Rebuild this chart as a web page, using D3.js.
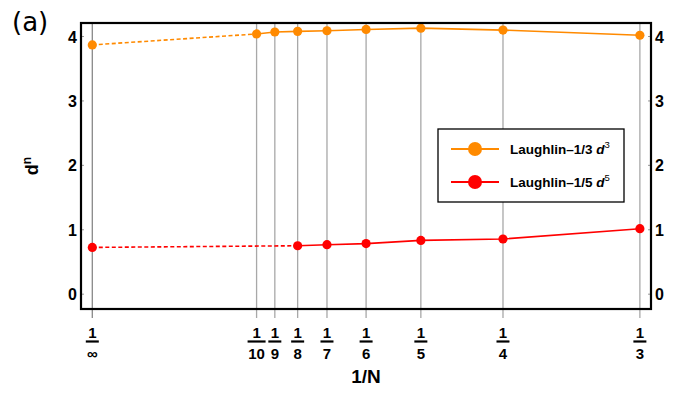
<!DOCTYPE html>
<html>
<head>
<meta charset="utf-8">
<title>d^n vs 1/N</title>
<script src="https://d3js.org/d3.v7.min.js"></script>
<style>
body { margin: 0; background: #fff; }
text { font-family: "Liberation Sans", Arial, sans-serif; }
.frame { fill: none; stroke: #000; stroke-width: 2.2; }
.grid { stroke: #a8a8a8; stroke-width: 1.3; }
.ytick { font-size: 16px; font-weight: bold; }
.xfrac { font-size: 15px; font-weight: bold; }
</style>
</head>
<body>
<script>
// tick positions along 1/N and their denominators
var tickN = [Infinity, 10, 9, 8, 7, 6, 5, 4, 3];
var tickDen = ["\u221e", "10", "9", "8", "7", "6", "5", "4", "3"];
var yTicks = [0, 1, 2, 3, 4];

// Laughlin-1/3 d^3
var nOrange = [Infinity, 10, 9, 8, 7, 6, 5, 4, 3];
var dOrange = [3.87, 4.04, 4.07, 4.08, 4.09, 4.11, 4.13, 4.10, 4.02];
// Laughlin-1/5 d^5
var nRed = [Infinity, 8, 7, 6, 5, 4, 3];
var dRed = [0.726, 0.752, 0.768, 0.785, 0.835, 0.857, 1.017];

var W = 688, H = 397;
var margin = {top: 23, right: 37, bottom: 88, left: 81};
var width = W - margin.left - margin.right,
    height = H - margin.top - margin.bottom;

var x = d3.scaleLinear().domain([-0.00688, 0.3401]).range([0, width]);
var y = d3.scaleLinear().domain([-0.23, 4.21]).range([height, 0]);

var svg = d3.select("body").append("svg")
    .attr("width", W).attr("height", H);

svg.append("text")
    .attr("x", 12).attr("y", 31)
    .style("font-family", "'DejaVu Sans', sans-serif")
    .style("font-size", "26px")
    .text("(a)");

var g = svg.append("g")
    .attr("transform", "translate(" + margin.left + "," + margin.top + ")");

function inv(n) { return n === Infinity ? 0 : 1 / n; }

// vertical grid lines, running past the bottom of the frame
g.selectAll(".grid").data(tickN).enter().append("line")
    .attr("class", "grid")
    .attr("x1", function(d) { return x(inv(d)); })
    .attr("x2", function(d) { return x(inv(d)); })
    .attr("y1", 0).attr("y2", height + 9)
    .style("stroke", function(d, i) { return i === 0 ? "#888" : null; });

// y tick labels, both sides
[{side: "left", anchor: "end", dx: -4}, {side: "right", anchor: "start", dx: width + 4}].forEach(function(s) {
  g.selectAll(".yt-" + s.side).data(yTicks).enter().append("text")
      .attr("class", "ytick")
      .attr("text-anchor", s.anchor)
      .attr("x", s.dx)
      .attr("y", function(d) { return y(d) + 6; })
      .text(function(d) { return d; });
  g.selectAll(".ym-" + s.side).data(yTicks).enter().append("line")
      .attr("x1", s.side === "left" ? 0 : width)
      .attr("x2", s.side === "left" ? 3 : width - 3)
      .attr("y1", function(d) { return y(d); })
      .attr("y2", function(d) { return y(d); })
      .attr("stroke", "#999");
});

// fraction tick labels 1/N
var xl = g.selectAll(".xl").data(tickN).enter().append("g")
    .attr("transform", function(d) { return "translate(" + x(inv(d)) + "," + height + ")"; });
xl.append("text").attr("class", "xfrac").attr("text-anchor", "middle")
    .attr("y", 29).text("1");
xl.append("line")
    .attr("x1", function(d, i) { return tickDen[i].length > 1 ? -9 : -6.5; })
    .attr("x2", function(d, i) { return tickDen[i].length > 1 ? 9 : 6.5; })
    .attr("y1", 32.5).attr("y2", 32.5)
    .attr("stroke", "#000").attr("stroke-width", 2.2);
xl.append("text").attr("class", "xfrac").attr("text-anchor", "middle")
    .attr("y", 50).text(function(d, i) { return tickDen[i]; });

svg.append("text")
    .attr("x", 366).attr("y", 383)
    .attr("text-anchor", "middle")
    .style("font-size", "19px").style("font-weight", "bold")
    .text("1/N");

var yl = svg.append("text")
    .attr("transform", "translate(38,166) rotate(-90)")
    .attr("text-anchor", "middle")
    .style("font-size", "18px").style("font-weight", "bold");
yl.append("tspan").text("d");
yl.append("tspan").attr("dy", -7).style("font-size", "12px").text("n");

// series
var series = [
  {n: nOrange, d: dOrange, color: "#ff8a00", split: 1},
  {n: nRed, d: dRed, color: "#ff0000", split: 1}
];

var line = d3.line()
    .x(function(p) { return x(p[0]); })
    .y(function(p) { return y(p[1]); });

series.forEach(function(s) {
  var pts = s.n.map(function(n, i) { return [inv(n), s.d[i]]; });
  g.append("path").datum(pts.slice(0, s.split + 1))
      .attr("fill", "none").attr("stroke", s.color)
      .attr("stroke-width", 1.6).attr("stroke-dasharray", "4,2.5")
      .attr("d", line);
  g.append("path").datum(pts.slice(s.split))
      .attr("fill", "none").attr("stroke", s.color)
      .attr("stroke-width", 1.6)
      .attr("d", line);
  g.selectAll(null).data(pts).enter().append("circle")
      .attr("cx", function(p) { return x(p[0]); })
      .attr("cy", function(p) { return y(p[1]); })
      .attr("r", 4.6)
      .attr("fill", s.color);
});

g.append("rect").attr("class", "frame")
    .attr("width", width).attr("height", height);

// legend
var legend = svg.append("g").attr("transform", "translate(438,129)");
legend.append("rect")
    .attr("width", 186).attr("height", 73)
    .attr("fill", "#fff").attr("stroke", "#000").attr("stroke-width", 1.3);
var labels = [["Laughlin\u20131/3 ", "3"], ["Laughlin\u20131/5 ", "5"]];
series.forEach(function(s, i) {
  var row = legend.append("g").attr("transform", "translate(0," + (20 + i * 33) + ")");
  row.append("line").attr("x1", 13).attr("x2", 61)
      .attr("stroke", s.color).attr("stroke-width", 2);
  row.append("circle").attr("cx", 37).attr("r", 7).attr("fill", s.color);
  var t = row.append("text").attr("x", 72).attr("y", 5)
      .style("font-size", "13.5px").style("font-weight", "bold");
  t.append("tspan").text(labels[i][0]);
  t.append("tspan").style("font-style", "italic").text("d");
  t.append("tspan").attr("dy", -6).style("font-size", "9.5px").style("font-weight", "normal").text(labels[i][1]);
});
</script>
</body>
</html>
